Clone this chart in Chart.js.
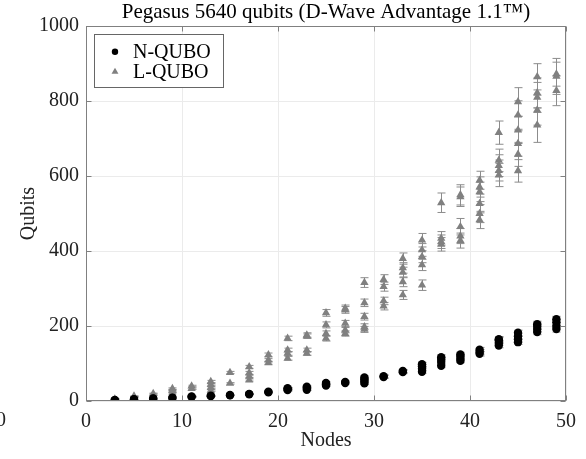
<!DOCTYPE html>
<html><head><meta charset="utf-8">
<script src="https://cdn.jsdelivr.net/npm/chart.js@4.4.1/dist/chart.umd.min.js"></script>
<style>html,body{margin:0;padding:0;background:#fff}#wrap{width:586px;height:459px}</style>
</head><body><div id="wrap"><canvas id="c" width="586" height="459"></canvas></div>
<script>
const titleText = 'Pegasus 5640 qubits (D-Wave Advantage 1.1\u2122)';
const seriesLabels = ['N-QUBO', 'L-QUBO'];
const xTicks = [0, 10, 20, 30, 40, 50];
const yTicks = [0, 200, 400, 600, 800, 1000];
const nodes = [3,5,7,9,11,13,15,17,19,21,23,25,27,29,31,33,35,37,39,41,43,45,47,49];
const nQubits = [[2,3],[4,5],[6,7],[8,9],[11,12],[13,14],[15,16],[18,19],[23,25],[29,32,34],[30,35,38],[41,45,48],[48,51],[47,53,58,63],[64,66],[77,80],[78,86,93,98],[94,104,112,117],[107,113,120,124],[126,131,137],[148,155,162,165],[157,165,173,182],[184,192,200,205],[192,200,210,218]];
const nErr = [[0,0],[0,0],[0,0],[0,0],[1,1],[1,1],[1,1],[1,1],[1,1],[2,2,2],[2,2,2],[2,2,3],[3,3],[3,3,3,4],[4,4],[4,4],[4,4,5,5],[5,5,5,6],[5,5,6,6],[6,6,6],[6,6,7,7],[6,7,7,7],[7,7,8,8],[8,8,8,8]];
const lQubits = [[5],[10,13],[15,20],[22,28,33],[33,40],[28,36,44,52],[47,76],[56,66,75,91],[102,109,123],[114,127,136,167],[127,136,173,176],[167,180,203,235],[180,189,207,243,247],[191,198,225,262,316],[253,267,305,324],[283,318,343,355,380],[309,363,385,403,429],[418,425,434,529],[428,440,465,545,550],[483,500,527,558,571,589],[603,615,628,642,716],[614,658,687,723,763,798],[736,776,810,822,865],[828,866,872]];
const lErr = [[1],[1,1],[1,1],[1,2,2],[2,2],[2,2,2,3],[2,3],[3,3,4,4],[4,4,5],[5,5,5,6],[5,5,6,6],[7,7,8,9],[7,7,8,9,9],[8,8,9,10,13],[10,10,12,13],[12,13,14,14,15],[14,15,16,17,18],[18,18,18,26],[20,20,22,26,27],[23,24,25,26,27,24],[31,28,29,30,31],[30,32,34,36,38,38],[46,40,40,40,35],[40,48,32]];

function flatten(vals, errs) {
  const pts = [];
  nodes.forEach((n, i) => vals[i].forEach((q, k) => pts.push({x: n, y: q, e: errs[i][k]})));
  return pts;
}
const FONT = '"Liberation Serif", "Times New Roman", serif';
const AXIS = '#808080';

const errorBars = {
  id: 'errorBars',
  beforeDatasetsDraw(chart) {
    const {ctx, scales: {x, y}} = chart;
    ctx.save();
    ctx.lineWidth = 1;
    chart.data.datasets.forEach((ds) => {
      ctx.strokeStyle = ds.errColor;
      ds.data.forEach(p => {
        if (!p.e) return;
        const px = Math.round(x.getPixelForValue(p.x)) + 0.5;
        const y1 = y.getPixelForValue(p.y - p.e), y2 = y.getPixelForValue(p.y + p.e);
        ctx.beginPath();
        ctx.moveTo(px, y1); ctx.lineTo(px, y2);
        ctx.moveTo(px - 4, y1); ctx.lineTo(px + 4, y1);
        ctx.moveTo(px - 4, y2); ctx.lineTo(px + 4, y2);
        ctx.stroke();
      });
    });
    ctx.restore();
  }
};

const frame = {
  id: 'frame',
  afterDatasetsDraw(chart) {
    const {ctx, chartArea: a, scales: {x, y}} = chart;
    ctx.save();
    ctx.strokeStyle = AXIS; ctx.lineWidth = 1;
    const L = Math.round(a.left) + 0.5, R = Math.round(a.right) - 0.5, T = Math.round(a.top) + 0.5, B = Math.round(a.bottom) - 0.5;
    ctx.strokeRect(L, T, R - L, B - T);
    ctx.beginPath();
    xTicks.forEach(v => { const px = Math.round(x.getPixelForValue(v)) + 0.5; ctx.moveTo(px, B); ctx.lineTo(px, B - 5); ctx.moveTo(px, T); ctx.lineTo(px, T + 5); });
    yTicks.forEach(v => { const py = Math.round(y.getPixelForValue(v)) + 0.5; ctx.moveTo(L, py); ctx.lineTo(L + 5, py); ctx.moveTo(R, py); ctx.lineTo(R - 5, py); });
    ctx.stroke();
    ctx.restore();
  },
  afterDraw(chart) {
    const {ctx, chartArea: a} = chart;
    ctx.save();
    // legend
    const lx = a.left + 8, ly = a.top + 8, lw = 129, lh = 53;
    ctx.fillStyle = '#fff';
    ctx.fillRect(lx, ly, lw, lh);
    ctx.strokeStyle = '#666'; ctx.lineWidth = 1;
    ctx.strokeRect(Math.round(lx) + 0.5, Math.round(ly) + 0.5, lw, lh);
    ctx.font = '20px ' + FONT;
    ctx.textBaseline = 'middle';
    ctx.textAlign = 'left';
    chart.data.datasets.forEach((ds, i) => {
      const cy = ly + 17.5 + i * 20;
      const cx = lx + 21;
      ctx.fillStyle = ds.backgroundColor;
      ctx.beginPath();
      if (ds.pointStyle === 'circle') {
        ctx.arc(cx, cy, 3.2, 0, Math.PI * 2);
      } else {
        const r = 4;
        ctx.moveTo(cx, cy - r);
        ctx.lineTo(cx + r * 0.866, cy + r * 0.5);
        ctx.lineTo(cx - r * 0.866, cy + r * 0.5);
        ctx.closePath();
      }
      ctx.fill();
      ctx.fillStyle = '#000';
      ctx.fillText(ds.label, lx + 39, cy + 1);
    });
    // clipped tick label from neighbouring axes
    ctx.font = '20px ' + FONT;
    ctx.fillStyle = '#222';
    ctx.textAlign = 'right';
    ctx.textBaseline = 'top';
    ctx.fillText('50', 6, a.bottom + 10);
    ctx.restore();
  }
};

new Chart(document.getElementById('c'), {
  type: 'scatter',
  data: {
    datasets: [
      {label: seriesLabels[0], data: flatten(nQubits, nErr), pointStyle: 'circle', pointRadius: 4.2, backgroundColor: '#000', borderColor: '#000', borderWidth: 0, errColor: '#8c8c8c'},
      {label: seriesLabels[1], data: flatten(lQubits, lErr), pointStyle: 'triangle', pointRadius: 4.8, backgroundColor: '#808080', borderColor: '#808080', borderWidth: 0, errColor: '#8c8c8c'}
    ]
  },
  options: {
    responsive: false, animation: false, devicePixelRatio: 1,
    layout: {padding: {left: 0, right: 20, top: 0, bottom: 0}},
    plugins: {
      legend: {display: false}, tooltip: {enabled: false},
      title: {display: true, text: titleText, fullSize: false, color: '#000', font: {family: FONT, size: 21, weight: 'normal'}, padding: {top: 0, bottom: 1}}
    },
    scales: {
      x: {
        type: 'linear', min: 0, max: 50,
        afterBuildTicks: s => { s.ticks = xTicks.map(v => ({value: v})); },
        afterFit: s => { s.height = 58; },
        ticks: {color: '#222', font: {family: FONT, size: 20}, padding: 9, maxRotation: 0, callback: v => String(v)},
        grid: {color: '#ebebeb', drawTicks: false},
        border: {display: false},
        title: {display: true, text: 'Nodes', color: '#222', font: {family: FONT, size: 20}, padding: {top: 0, bottom: 6}}
      },
      y: {
        type: 'linear', min: 0, max: 1000,
        afterBuildTicks: s => { s.ticks = yTicks.map(v => ({value: v})); },
        afterFit: s => { s.width = 86; },
        ticks: {color: '#222', font: {family: FONT, size: 20}, padding: 7, callback: v => String(v)},
        grid: {color: '#ebebeb', drawTicks: false},
        border: {display: false},
        title: {display: true, text: 'Qubits', color: '#222', font: {family: FONT, size: 20}, padding: {top: 17, bottom: 0}}
      }
    }
  },
  plugins: [errorBars, frame]
});
</script></body></html>
